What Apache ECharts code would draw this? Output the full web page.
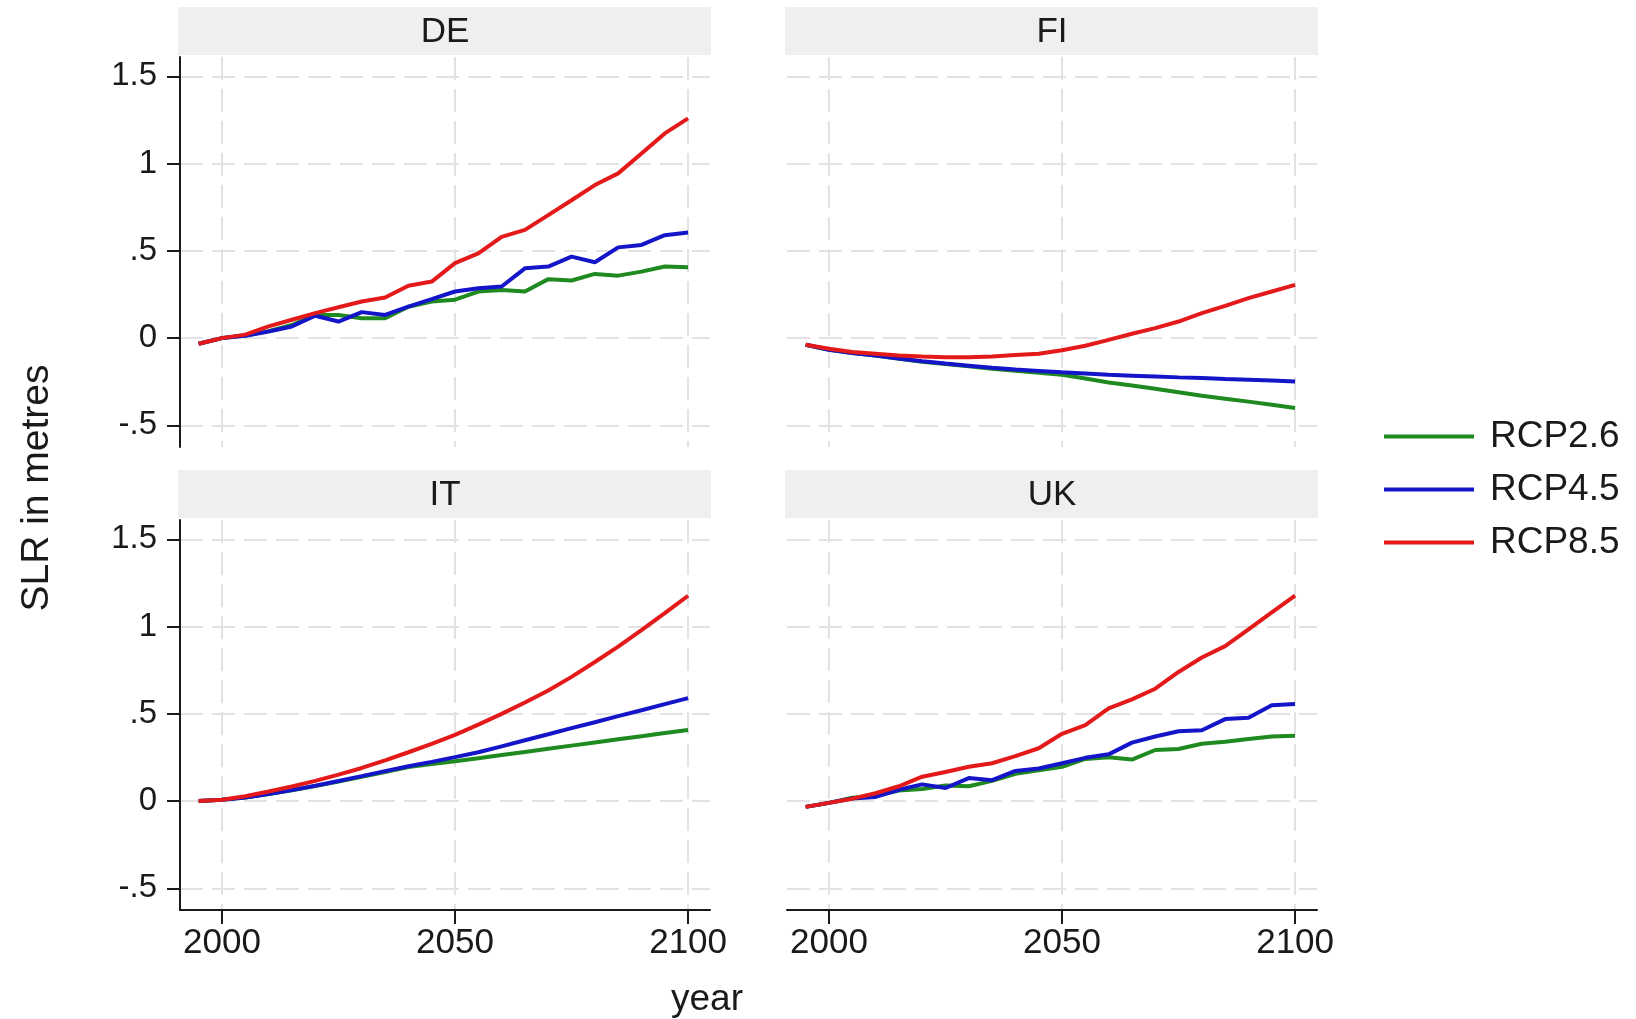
<!DOCTYPE html>
<html>
<head>
<meta charset="utf-8">
<title>SLR by country</title>
<script src="https://cdn.jsdelivr.net/npm/echarts@6/dist/echarts.min.js"></script>
<style>
  html, body { margin: 0; padding: 0; background: #fff; }
  #main { width: 1636px; height: 1019px; }
</style>
</head>
<body>
<div id="main"></div>
<script>
// 数据
const years = [1995, 2000, 2005, 2010, 2015, 2020, 2025, 2030, 2035, 2040, 2045,
               2050, 2055, 2060, 2065, 2070, 2075, 2080, 2085, 2090, 2095, 2100];
const scenarios = ['RCP2.6', 'RCP4.5', 'RCP8.5'];
const countries = ['DE', 'FI', 'IT', 'UK'];
const xTicks = [2000, 2050, 2100];
const yTicks = [-0.5, 0, 0.5, 1, 1.5];

const deRcp26 = [-0.032, 0, 0.015, 0.04, 0.075, 0.133, 0.133, 0.114, 0.114, 0.18, 0.21,
                 0.22, 0.267, 0.276, 0.267, 0.338, 0.33, 0.368, 0.358, 0.381, 0.41, 0.406];
const deRcp45 = [-0.032, 0, 0.013, 0.038, 0.067, 0.128, 0.095, 0.149, 0.133, 0.18, 0.223,
                 0.267, 0.286, 0.296, 0.40, 0.41, 0.467, 0.435, 0.52, 0.534, 0.59, 0.605];
const deRcp85 = [-0.032, 0, 0.02, 0.067, 0.105, 0.143, 0.177, 0.21, 0.233, 0.30, 0.324,
                 0.43, 0.486, 0.58, 0.62, 0.705, 0.79, 0.877, 0.944, 1.058, 1.173, 1.259];

const fiRcp26 = [-0.038, -0.067, -0.085, -0.10, -0.118, -0.135, -0.148, -0.162, -0.175, -0.187, -0.198,
                 -0.21, -0.232, -0.254, -0.272, -0.29, -0.31, -0.33, -0.347, -0.364, -0.382, -0.40];
const fiRcp45 = [-0.038, -0.067, -0.085, -0.10, -0.117, -0.133, -0.146, -0.158, -0.17, -0.18, -0.188,
                 -0.196, -0.203, -0.21, -0.215, -0.22, -0.225, -0.229, -0.234, -0.238, -0.243, -0.248];
const fiRcp85 = [-0.038, -0.061, -0.08, -0.09, -0.10, -0.105, -0.109, -0.109, -0.105, -0.097, -0.09,
                 -0.07, -0.044, -0.01, 0.025, 0.057, 0.095, 0.143, 0.185, 0.229, 0.267, 0.305];

const itRcp26 = [0, 0.008, 0.02, 0.04, 0.062, 0.086, 0.112, 0.139, 0.167, 0.195, 0.213,
                 0.228, 0.246, 0.264, 0.282, 0.30, 0.318, 0.336, 0.354, 0.372, 0.39, 0.407];
const itRcp45 = [0, 0.008, 0.02, 0.04, 0.063, 0.088, 0.115, 0.143, 0.172, 0.20, 0.225,
                 0.252, 0.28, 0.314, 0.349, 0.383, 0.418, 0.452, 0.487, 0.521, 0.556, 0.59];
const itRcp85 = [0, 0.008, 0.028, 0.055, 0.084, 0.116, 0.152, 0.19, 0.233, 0.28, 0.328,
                 0.38, 0.438, 0.50, 0.565, 0.634, 0.712, 0.797, 0.885, 0.98, 1.077, 1.177];

const ukRcp26 = [-0.033, -0.01, 0.02, 0.03, 0.061, 0.069, 0.09, 0.085, 0.116, 0.157, 0.177,
                 0.197, 0.242, 0.252, 0.238, 0.293, 0.299, 0.329, 0.34, 0.356, 0.37, 0.374];
const ukRcp45 = [-0.033, -0.01, 0.015, 0.024, 0.065, 0.096, 0.075, 0.132, 0.12, 0.173, 0.187,
                 0.217, 0.248, 0.268, 0.335, 0.37, 0.40, 0.406, 0.47, 0.478, 0.549, 0.557];
const ukRcp85 = [-0.033, -0.01, 0.014, 0.045, 0.085, 0.14, 0.167, 0.197, 0.217, 0.258, 0.303,
                 0.386, 0.435, 0.532, 0.583, 0.644, 0.74, 0.823, 0.888, 0.984, 1.081, 1.177];

const panelValues = [
    [deRcp26, deRcp45, deRcp85],
    [fiRcp26, fiRcp45, fiRcp85],
    [itRcp26, itRcp45, itRcp85],
    [ukRcp26, ukRcp45, ukRcp85],
];

// 样式
const colors = ['#1f8a1f', '#1414c8', '#e41a1a'];
const fontFamily = "'Liberation Sans', Arial, sans-serif";
const textColor = '#1a1a1a';
const gridColor = '#e2e2e2';

// 面板位置
const panels = [
    { left: 180, top: 57, showX: false, showY: true },
    { left: 787, top: 57, showX: false, showY: false },
    { left: 180, top: 520, showX: true, showY: true },
    { left: 787, top: 520, showX: true, showY: false },
];
const panelW = 530;
const panelH = 390;
const stripH = 48;

function fmtY(v) {
    if (v === 0) return '0';
    return String(v).replace(/^(-?)0\./, '$1.');
}

const chart = echarts.init(document.getElementById('main'));

const grids = panels.map(p => ({
    left: p.left, top: p.top, width: panelW, height: panelH, containLabel: false
}));

const xAxes = panels.map((p, i) => ({
    type: 'value',
    gridIndex: i,
    min: 1991,
    max: 2104.7,
    axisLine: { show: p.showX, onZero: false, lineStyle: { color: textColor, width: 2 } },
    axisTick: { show: p.showX, length: 14, customValues: xTicks, lineStyle: { color: textColor, width: 2 } },
    axisLabel: {
        show: p.showX, customValues: xTicks, margin: 16,
        fontSize: 35, color: textColor, fontFamily: fontFamily,
        formatter: v => String(v)
    },
    splitLine: { show: true, lineStyle: { color: gridColor, width: 2, type: [23, 9] } }
}));

const yAxes = panels.map((p, i) => ({
    type: 'value',
    gridIndex: i,
    min: -0.624,
    max: 1.611,
    axisLine: { show: p.showY, lineStyle: { color: textColor, width: 2 } },
    axisTick: { show: p.showY, length: 13, customValues: yTicks, lineStyle: { color: textColor, width: 2 } },
    axisLabel: {
        show: p.showY, customValues: yTicks, margin: 23,
        fontSize: 33, color: textColor, fontFamily: fontFamily,
        formatter: fmtY
    },
    splitLine: { show: true, lineStyle: { color: gridColor, width: 2, type: [23, 9] } }
}));

const series = [];
panelValues.forEach((vals, i) => {
    vals.forEach((arr, j) => {
        series.push({
            name: scenarios[j],
            type: 'line',
            xAxisIndex: i,
            yAxisIndex: i,
            data: years.map((y, k) => [y, arr[k]]),
            symbol: 'none',
            color: colors[j],
            lineStyle: { width: 4, color: colors[j] },
            z: 3 + j,
            animation: false
        });
    });
});

// 分面标题条
const graphics = [];
panels.forEach((p, i) => {
    graphics.push({
        type: 'rect',
        shape: { x: p.left - 2, y: p.top - stripH - 2, width: panelW + 3, height: stripH },
        style: { fill: '#efefef' },
        silent: true
    });
    graphics.push({
        type: 'text',
        x: p.left + panelW / 2,
        y: p.top - stripH / 2 - 1,
        style: {
            text: countries[i], fill: textColor, font: '35px ' + fontFamily,
            align: 'center', verticalAlign: 'middle'
        },
        silent: true
    });
});
graphics.push({
    type: 'text',
    x: 707,
    y: 1000,
    style: {
        text: 'year', fill: textColor, font: '37px ' + fontFamily,
        align: 'center', verticalAlign: 'middle'
    },
    silent: true
});
graphics.push({
    type: 'text',
    x: 37,
    y: 488,
    rotation: Math.PI / 2,
    style: {
        text: 'SLR in metres', fill: textColor, font: '39px ' + fontFamily,
        align: 'center', verticalAlign: 'middle'
    },
    silent: true
});

const option = {
    backgroundColor: '#ffffff',
    animation: false,
    grid: grids,
    xAxis: xAxes,
    yAxis: yAxes,
    legend: {
        orient: 'vertical',
        left: 1384,
        top: 418,
        padding: 0,
        itemWidth: 90,
        itemHeight: 4,
        itemGap: 16,
        icon: 'rect',
        data: scenarios,
        textStyle: { fontSize: 37, color: textColor, fontFamily: fontFamily, padding: [0, 0, 0, 11] }
    },
    graphic: graphics,
    series: series
};

chart.setOption(option);
</script>
</body>
</html>
